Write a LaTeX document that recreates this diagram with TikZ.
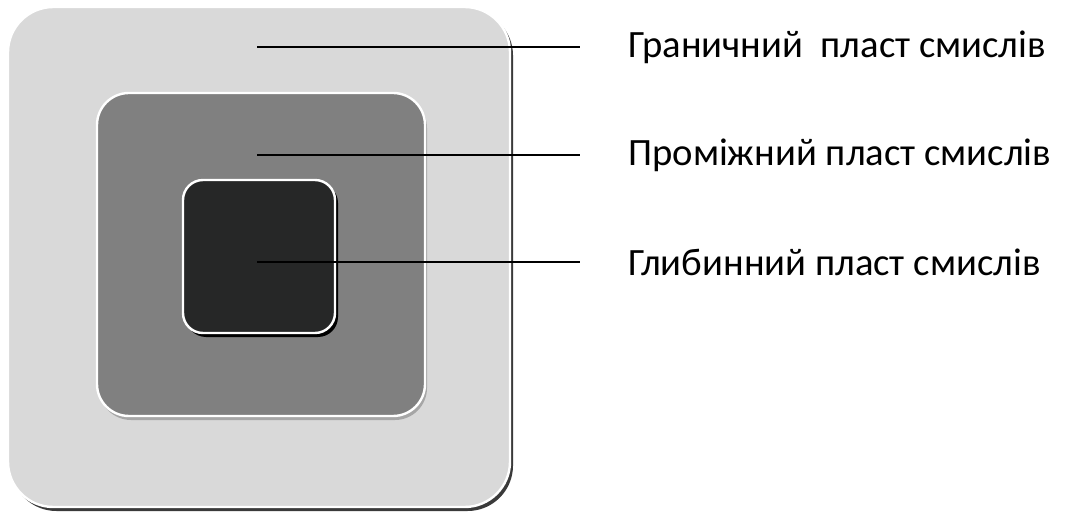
\documentclass[tikz,border=0pt]{standalone}
\usepackage{fontspec}
\setmainfont{Carlito}
\definecolor{outerfill}{HTML}{D9D9D9}
\definecolor{midfill}{HTML}{808080}
\definecolor{innerfill}{HTML}{262727}
\definecolor{darkshade}{HTML}{3A3A3A}
\definecolor{midshade}{HTML}{A6A6A6}
\tikzset{
  layerbox/.style={draw=white, line width=1.8pt},
  pointer/.style={line width=1pt},
  layertext/.style={anchor=west, inner sep=0pt, font=\fontsize{29}{34}\selectfont}
}
\begin{document}
\begin{tikzpicture}[x=0.75pt,y=-0.75pt]
\useasboundingbox (0,0) rectangle (1067,513);
  % Outer layer
  \fill[darkshade, rounded corners=34] (11,10) rectangle (513,511);
  \draw[layerbox, fill=outerfill, rounded corners=34] (8,7) rectangle (510,507);
  % Middle layer
  \fill[midshade, rounded corners=24] (99,96) rectangle (427,420);
  \draw[layerbox, fill=midfill, rounded corners=24] (97,93) rectangle (425,416);
  % Inner layer
  \fill[black, rounded corners=15] (186,183) rectangle (338,337);
  \draw[layerbox, fill=innerfill, rounded corners=15] (183,180) rectangle (335,333);
  % Pointer start points
  \coordinate (p1) at (257,47);
  \coordinate (p2) at (257,155);
  \coordinate (p3) at (257,262);
  % Layer labels
  \node[layertext] (t1) at (628,47) {Граничний~ пласт смислів};
  \node[layertext] (t2) at (628,155) {Проміжний пласт смислів};
  \node[layertext] (t3) at (628,262) {Глибинний пласт смислів};
  % Draw pointers
  \foreach \i in {1,2,3}
    \draw[pointer] (p\i) -- ([xshift=-36]t\i.west);
\end{tikzpicture}
\end{document}
